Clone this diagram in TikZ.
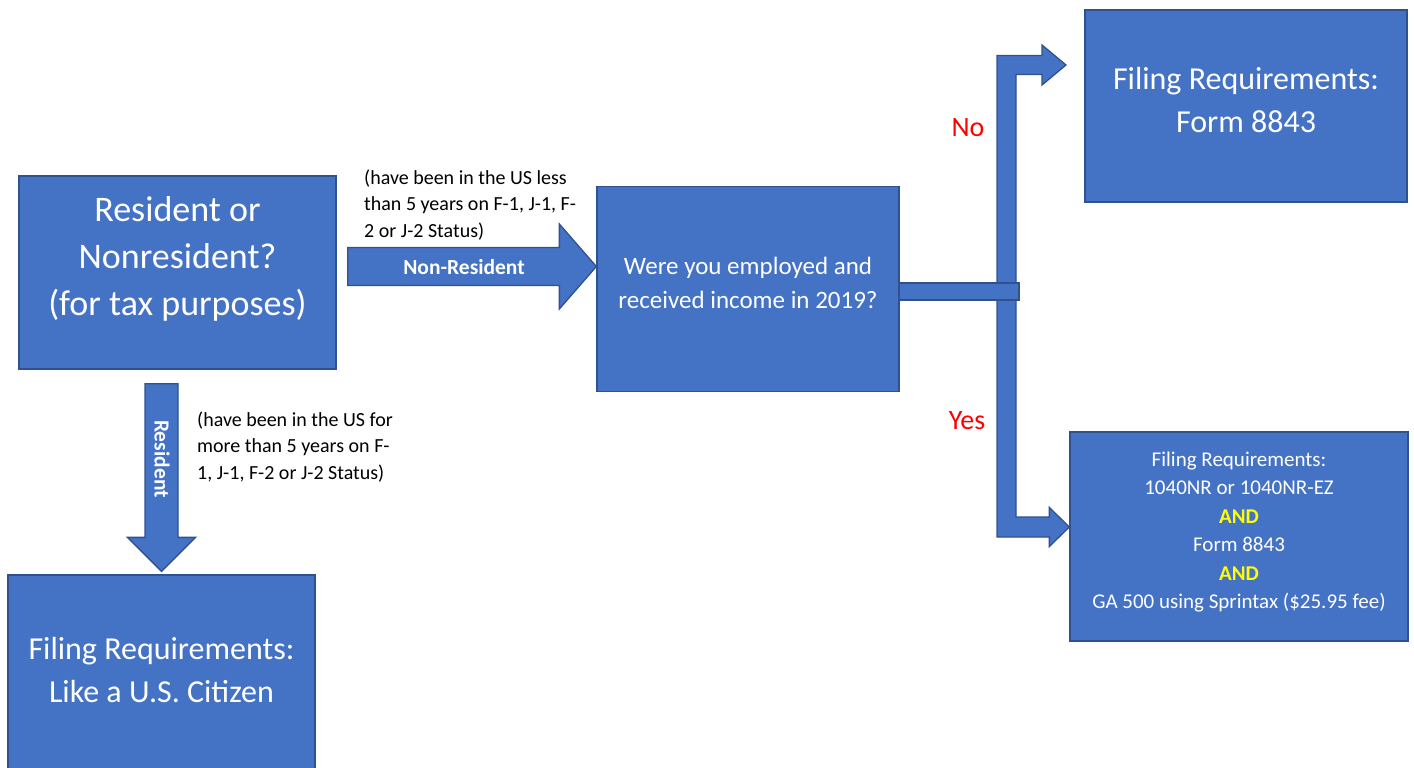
\documentclass[tikz,border=0pt]{standalone}
\usepackage{fontspec}
\setmainfont{Carlito}
\usetikzlibrary{positioning,calc}
\definecolor{boxblue}{HTML}{4472C4}
\definecolor{edgeblue}{HTML}{2F528F}
\definecolor{andyellow}{HTML}{FFFF00}
\tikzset{
  box/.style={draw=edgeblue, fill=boxblue, line width=1.3pt, inner sep=0pt},
  blk/.style={draw=edgeblue, fill=boxblue, line width=1.3pt, line join=miter},
  boxtext/.style={text=white, align=center, inner sep=0pt},
  note/.style={align=left, inner sep=0pt, font=\fontsize{20}{26.5}\selectfont},
  answer/.style={text=red, inner sep=0pt, font=\fontsize{28}{32}\selectfont}
}

\begin{document}
\begin{tikzpicture}[x=1pt, y=-1pt]
  \useasboundingbox (0,0) rectangle (1414,768);

  % boxes
  \node[box, minimum width=317, minimum height=193] (resq)    at (177.5,272.5) {};
  \node[box, minimum width=302, minimum height=205] (empl)    at (748,289)     {};
  \node[box, minimum width=322, minimum height=192] (nofile)  at (1246,106)    {};
  \node[box, minimum width=338, minimum height=209] (yesfile) at (1239,536.5)  {};
  \node[box, minimum width=307, minimum height=215] (citizen) at (161.5,682.5) {};

  % box texts
  \node[boxtext, font=\fontsize{36}{47}\selectfont] (resqtxt) at ($(resq.center)+(0,-14)$)
       {Resident or\\Nonresident?\\(for tax purposes)};
  \node[boxtext, font=\fontsize{25}{34}\selectfont] (empltxt) at ($(empl.center)+(0,-6)$)
       {Were you employed and\\received income in 2019?};
  \node[boxtext, font=\fontsize{32}{43}\selectfont] (notxt) at ($(nofile.center)+(0,-6)$)
       {Filing Requirements:\\Form 8843};
  \node[boxtext, font=\fontsize{32}{43}\selectfont] (citizentxt) at ($(citizen.north)+(0,96)$)
       {Filing Requirements:\\Like a U.S. Citizen};
  \node[boxtext, font=\fontsize{21}{28.5}\selectfont] (yestxt) at ($(yesfile.center)+(0,-4.5)$)
       {Filing Requirements:\\1040NR or 1040NR-EZ\\\textcolor{andyellow}{\textbf{AND}}\\Form 8843\\
        \textcolor{andyellow}{\textbf{AND}}\\GA 500 using Sprintax (\$25.95 fee)};

  % non-resident arrow
  \coordinate (nrtip)  at (empl.west |- 0,266.5);
  \coordinate (nrtail) at ($(resq.east |- nrtip)+(11,0)$);
  \draw[blk] ($(nrtail)+(0,-19)$) -- ($(nrtip)+(-37,-19)$) -- ($(nrtip)+(-37,-42.5)$) -- (nrtip)
     -- ($(nrtip)+(-37,42.5)$) -- ($(nrtip)+(-37,19)$) -- ($(nrtail)+(0,19)$) -- cycle;

  % resident arrow
  \coordinate (rtip)  at ($(citizen.north)+(0,-3)$);
  \coordinate (rtail) at ($(rtip |- resq.south)+(0,14)$);
  \draw[blk] ($(rtail)+(-16.5,0)$) -- ($(rtip)+(-16.5,-34)$) -- ($(rtip)+(-34,-34)$) -- (rtip)
     -- ($(rtip)+(34,-34)$) -- ($(rtip)+(16.5,-34)$) -- ($(rtail)+(16.5,0)$) -- cycle;

  % yes / no branches
  \coordinate (fork)   at (1006.5,291.5);
  \coordinate (notip)  at (1066,65);
  \coordinate (yestip) at (yesfile.west |- 0,527);
  \draw[blk] ($(fork)+(-9.5,0)$) -- ($(fork |- notip)+(-9.5,-9.5)$) -- ($(notip)+(-24,-9.5)$)
     -- ($(notip)+(-24,-20)$) -- (notip) -- ($(notip)+(-24,20)$) -- ($(notip)+(-24,9.5)$)
     -- ($(fork |- notip)+(9.5,9.5)$) -- ($(fork)+(9.5,0)$) -- cycle;
  \draw[blk] ($(fork)+(-9.5,0)$) -- ($(fork |- yestip)+(-9.5,10)$) -- ($(yestip)+(-20,10)$)
     -- ($(yestip)+(-20,19.5)$) -- (yestip) -- ($(yestip)+(-20,-19.5)$) -- ($(yestip)+(-20,-10)$)
     -- ($(fork |- yestip)+(9.5,-10)$) -- ($(fork)+(9.5,0)$) -- cycle;
  \draw[blk] ($(empl.east)+(0,-6)$) rectangle ($(fork)+(12.5,8.5)$);

  % arrow labels
  \node[boxtext, font=\fontsize{21.5}{24}\bfseries\selectfont] (nrlabel) at (464,267) {Non-Resident};
  \node[boxtext, rotate=-90, font=\fontsize{21.5}{24}\bfseries\selectfont] (rlabel) at (162,459) {Resident};
  \node[note, anchor=west] (nrnote) at (364,205)
       {(have been in the US less\\than 5 years on F-1, J-1, F-\\2 or J-2 Status)};
  \node[note, anchor=west] (rnote) at (197,447)
       {(have been in the US for\\more than 5 years on F-\\1, J-1, F-2 or J-2 Status)};
  \node[answer] (no)  at (968,128) {No};
  \node[answer] (yes) at (967,421) {Yes};
\end{tikzpicture}
\end{document}
